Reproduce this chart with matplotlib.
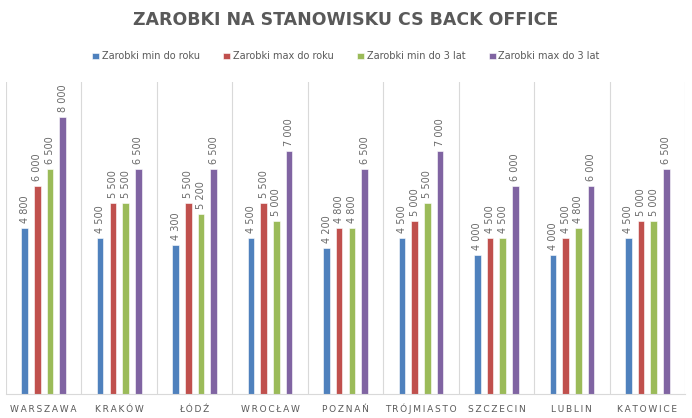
import matplotlib.pyplot as plt
import numpy as np

cities = ['WARSZAWA', 'KRAKÓW', 'ŁÓDŹ', 'WROCŁAW', 'POZNAŃ',
          'TRÓJMIASTO', 'SZCZECIN', 'LUBLIN', 'KATOWICE']
series_names = ['Zarobki min do roku', 'Zarobki max do roku',
                'Zarobki min do 3 lat', 'Zarobki max do 3 lat']
min_do_roku = [4800, 4500, 4300, 4500, 4200, 4500, 4000, 4000, 4500]
max_do_roku = [6000, 5500, 5500, 5500, 4800, 5000, 4500, 4500, 5000]
min_do_3_lat = [6500, 5500, 5200, 5000, 4800, 5500, 4500, 4800, 5000]
max_do_3_lat = [8000, 6500, 6500, 7000, 6500, 7000, 6000, 6000, 6500]
colors = ['#4F81BD', '#C0504D', '#9BBB59', '#8064A2']

grey = '#595959'
series = [min_do_roku, max_do_roku, min_do_3_lat, max_do_3_lat]

fig = plt.figure(figsize=(6.92, 4.18), dpi=100)
ax = fig.add_axes([0.0087, 0.0574, 0.9812, 0.746])

x = np.arange(len(cities))
width = 0.088
step = 0.168
for i, (vals, name, c) in enumerate(zip(series, series_names, colors)):
    pos = x + (i - 1.5) * step
    ax.bar(pos, vals, width=width, color=c, edgecolor='white', linewidth=0.4, label=name)
    for p, v in zip(pos, vals):
        ax.text(p, v + 150, f'{v:,}'.replace(',', ' '), rotation=90, ha='center', va='bottom',
                fontsize=7, color='#6a6a6a')

ax.set_xlim(-0.5, len(cities) - 0.5)
ax.set_ylim(0, 9000)
for b in np.arange(-0.5, len(cities), 1):
    ax.axvline(b, color='#d9d9d9', linewidth=0.8, zorder=0)
for s in ['top', 'left', 'right']:
    ax.spines[s].set_visible(False)
ax.spines['bottom'].set_color('#d9d9d9')
ax.set_yticks([])
ax.set_xticks(x)
ax.set_xticklabels(['\u2009'.join(c) for c in cities], fontsize=6.5, color=grey,
                   va='baseline')
ax.tick_params(axis='x', length=0, pad=13)

fig.text(0.5, 0.952, 'ZAROBKI NA STANOWISKU CS BACK OFFICE', ha='center', va='center',
         fontsize=12.5, fontweight='bold', color=grey)
fig.legend(loc='center', bbox_to_anchor=(0.5, 0.865), ncol=4, frameon=False,
           fontsize=7, labelcolor=grey, handlelength=0.7, handleheight=0.7,
           handletextpad=0.3, columnspacing=2.4)

fig.savefig('out.png', dpi=100)
